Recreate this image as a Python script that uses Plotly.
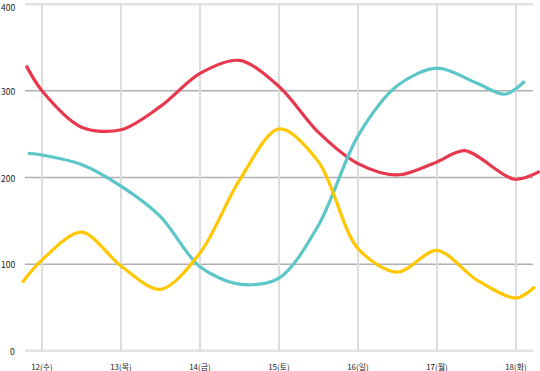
import plotly.graph_objects as go

categories = ["12(수)", "13(목)", "14(금)", "15(토)", "16(일)", "17(월)", "18(화)"]
cat_pos = [12, 13, 14, 15, 16, 17, 18]
y_ticks = [0, 100, 200, 300, 400]

red_x = [11.80, 12.0, 12.5, 13.0, 13.5, 14.0, 14.5, 15.0, 15.5, 16.0, 16.5, 17.0, 17.35, 17.98, 18.30]
red_y = [329, 300, 258, 255, 282, 320, 335, 305, 252, 216, 203, 218, 231, 198, 207]

cyan_x = [11.82, 12.0, 12.5, 13.0, 13.5, 14.0, 14.5, 15.0, 15.5, 16.0, 16.5, 17.0, 17.5, 17.86, 18.11]
cyan_y = [228, 226, 215, 190, 155, 97, 77, 84, 145, 248, 306, 326, 309, 296, 311]

yellow_x = [11.75, 12.0, 12.5, 13.0, 13.5, 14.0, 14.5, 15.0, 15.5, 16.0, 16.5, 17.0, 17.5, 18.0, 18.24]
yellow_y = [79, 105, 137, 98, 71, 113, 197, 256, 218, 118, 91, 116, 82, 61, 74]

fig = go.Figure()
for xs, ys, col in [(red_x, red_y, "#E8384F"), (cyan_x, cyan_y, "#5CC6C8"), (yellow_x, yellow_y, "#FFC700")]:
    fig.add_trace(go.Scatter(x=xs, y=ys, mode="lines",
                             line=dict(color=col, width=3.2, shape="spline", smoothing=0.9),
                             hoverinfo="skip", showlegend=False))

x0p = (25 - 20) / 520
x1p = (533 - 20) / 520
shapes = []
annotations = []
for v in y_ticks:
    edge = v in (0, 400)
    shapes.append(dict(type="line", xref="paper", yref="y", x0=x0p, x1=x1p, y0=v, y1=v,
                       line=dict(color="#e2e2e2" if edge else "#b0b0b0", width=3 if edge else 1.6),
                       layer="below"))
    annotations.append(dict(text=str(v), xref="paper", yref="y", x=(17 - 20) / 520, y=v,
                            xanchor="right", yanchor="middle", showarrow=False,
                            yshift=-3 if v == max(y_ticks) else 0,
                            font=dict(size=8.5, color="#222")))

fig.update_layout(
    width=540, height=371,
    margin=dict(l=20, r=0, t=3, b=19),
    paper_bgcolor="white", plot_bgcolor="white",
    shapes=shapes, annotations=annotations,
    font=dict(family="Noto Sans CJK KR, Noto Sans, sans-serif", color="#222"),
    xaxis=dict(range=[12 - 22 / 79, 12 + 498 / 79], tickvals=cat_pos, ticktext=categories,
               showgrid=True, gridcolor="#dddddd", gridwidth=2, zeroline=False,
               showline=False, ticks="", tickfont=dict(size=8), ticklabelstandoff=9),
    yaxis=dict(range=[-1.2, 401.2], showgrid=False, zeroline=False,
               showline=False, ticks="", showticklabels=False),
)

fig.write_html("out.html")
